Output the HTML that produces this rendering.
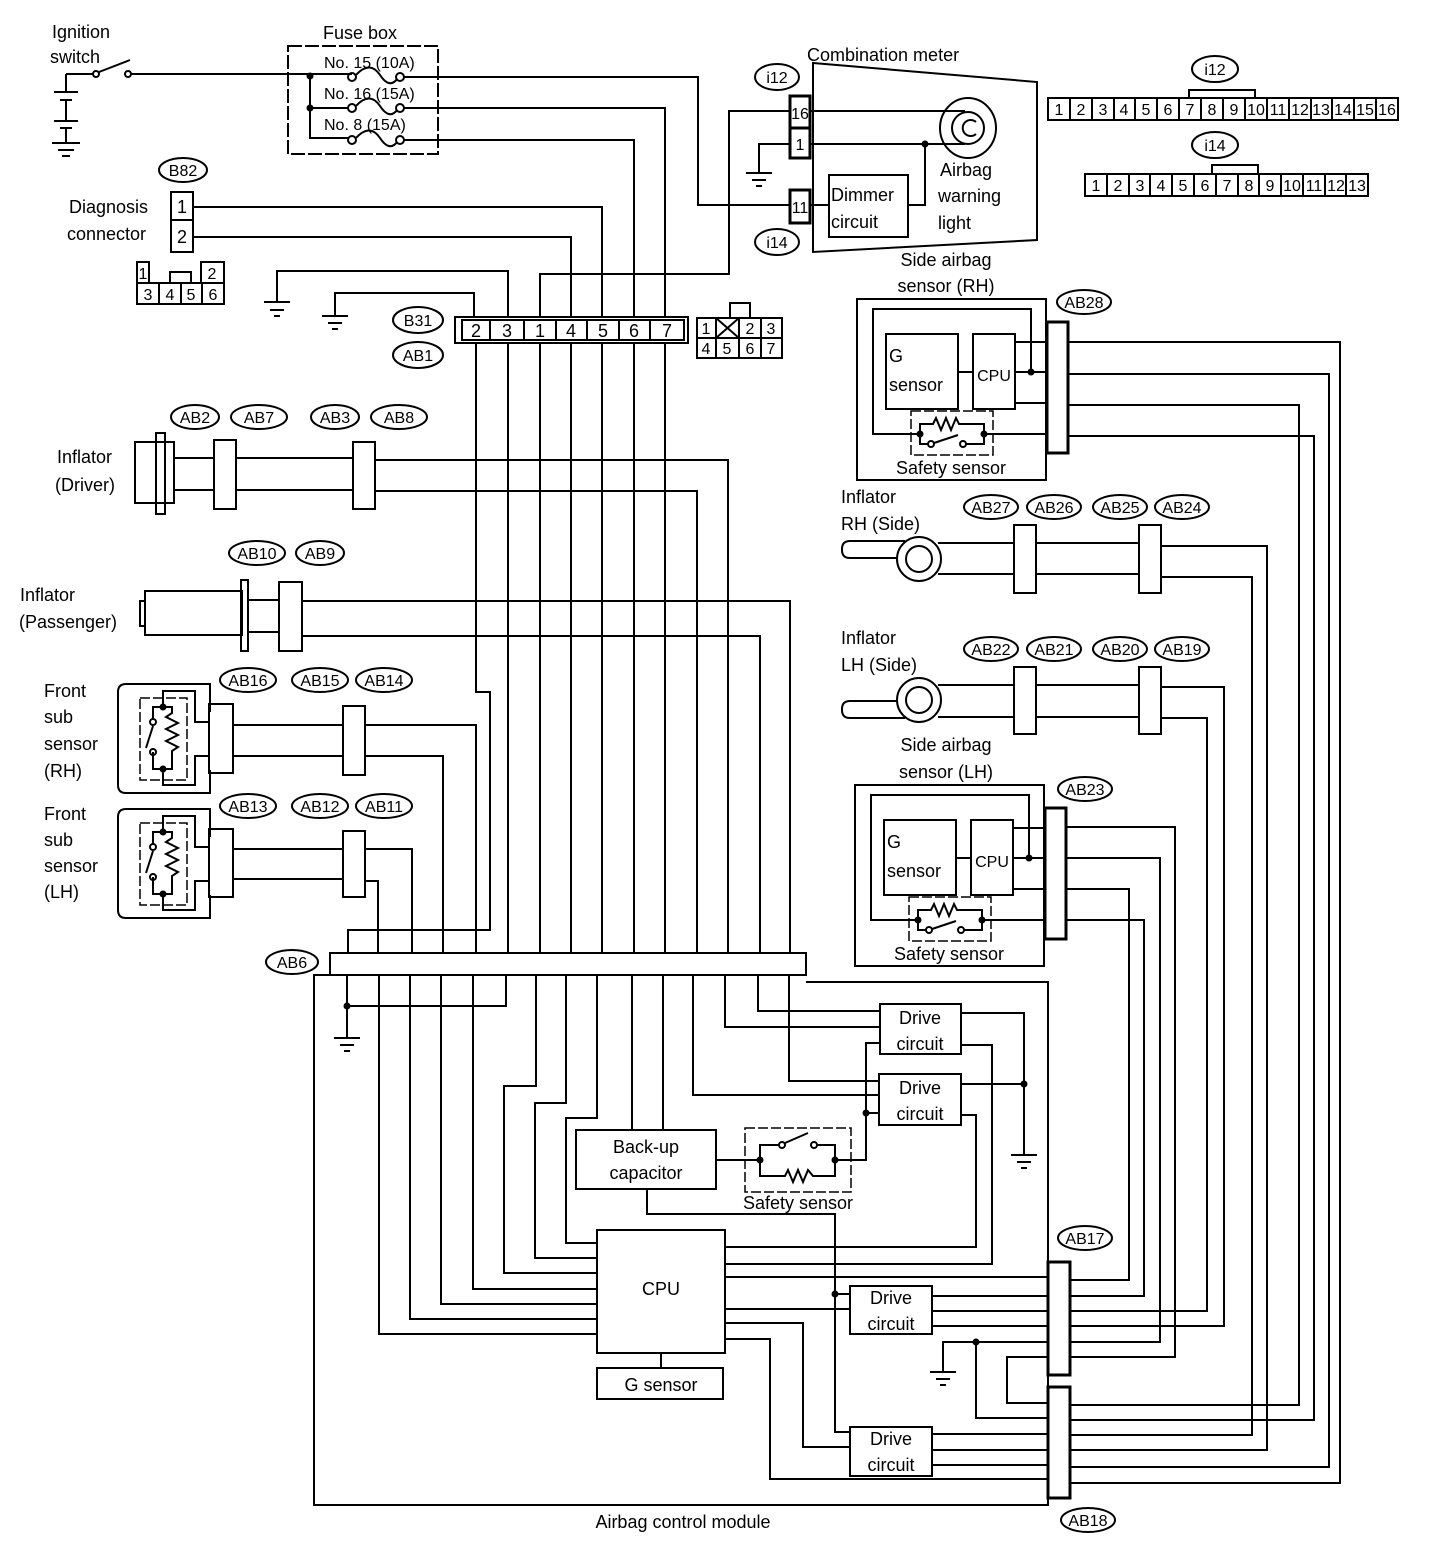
<!DOCTYPE html>
<html><head><meta charset="utf-8"><style>
html,body{margin:0;padding:0;background:#fff}
svg{display:block}
text{font-family:"Liberation Sans",Arial,sans-serif;font-size:18px;fill:#000}
.s{font-size:16px}
</style></head><body>
<svg width="1440" height="1556" viewBox="0 0 1440 1556" xmlns="http://www.w3.org/2000/svg">
<g fill="none" stroke="#000" stroke-width="2">
<path d="M66,74 V92 M54,92 H78 M60,100 H72 M66,100 V121 M54,121 H78 M60,128 H72 M66,128 V143 M52,143 H80 M58,150 H74 M62,156 H70"/>
<path d="M66,74 H93 M99,72 L130,60 M131,74 H352"/>
<circle cx="96" cy="74" r="3"/><circle cx="128" cy="74" r="3"/>
<rect x="288" y="46" width="150" height="108" stroke-dasharray="14,3"/>
<path d="M310,76 V138 H349 M310,108 H349"/>
<circle cx="352" cy="77" r="4"/><circle cx="400" cy="77" r="4"/>
<circle cx="352" cy="108" r="4"/><circle cx="400" cy="108" r="4"/>
<circle cx="352" cy="140" r="4"/><circle cx="400" cy="140" r="4"/>
<path d="M356,75 C366,64 374,66 380,75 C386,84 392,86 397,79"/>
<path d="M356,106 C366,95 374,97 380,106 C386,115 392,117 397,110"/>
<path d="M356,138 C366,127 374,129 380,138 C386,147 392,149 397,142"/>
<path d="M404,77 H698 V205 H790 M404,108 H665 V317 M404,140 H634 V317"/>
<rect x="171" y="192" width="22" height="28"/><rect x="171" y="220" width="22" height="32"/>
<path d="M193,207 H602 V317 M193,237 H571 V317"/>
<rect x="137" y="262" width="12" height="21"/><rect x="201" y="262" width="23" height="21"/>
<rect x="170" y="272" width="21" height="11"/>
<rect x="137" y="283" width="87" height="21"/>
<path d="M159,283 V304 M181,283 V304 M202,283 V304"/>
<path d="M277,302 V271 H508 V317 M264,302 H290 M270,310 H284 M274,316 H280"/>
<path d="M335,316 V293 H474 V317 M322,316 H348 M328,323 H342 M332,329 H338"/>
<path d="M540,317 V274 H729 V111 H790"/>
<rect x="455" y="317" width="233" height="26"/>
<rect x="462" y="320" width="222" height="20"/>
<path d="M490,320 V340 M524,320 V340 M556,320 V340 M587,320 V340 M619,320 V340 M650,320 V340"/>
<rect x="697" y="318" width="85" height="40"/>
<path d="M697,338 H782 M716,318 V358 M739,318 V358 M761,318 V358 M716,318 L739,338 M739,318 L716,338 M730,318 V303 H750 V318"/>
<path d="M476,343 V692 H490 V930 H348 V953"/>
<path d="M508,343 V953 M540,343 V953 M571,343 V953 M602,343 V953 M634,343 V953 M665,343 V953"/>
<rect x="135" y="442" width="39" height="61"/>
<rect x="156" y="433" width="9" height="81"/>
<rect x="214" y="440" width="22" height="69"/>
<rect x="353" y="442" width="22" height="67"/>
<path d="M174,458 H214 M236,458 H353 M375,460 H728 V953 M174,490 H214 M236,490 H353 M375,491 H697 V953"/>
<rect x="145" y="591" width="97" height="44"/>
<rect x="140" y="601" width="5" height="25"/>
<rect x="241" y="580" width="7" height="71"/>
<rect x="279" y="582" width="23" height="69"/>
<path d="M248,600 H279 M302,601 H790 V953 M248,632 H279 M302,636 H760 V953"/>
<path d="M210,712 V684 H126 Q118,684 118,692 V785 Q118,793 126,793 H210 V770"/>
<rect x="140" y="698" width="47" height="82" stroke-dasharray="10,3" stroke-width="1.5"/>
<path d="M210,722 H195 V691 H163 V707 M163,707 H153 V719 M153,726 L146,748 M153,752 V769 H163 M163,707 H172 V713 L166,717 L178,723 L166,729 L178,735 L166,741 L178,747 L172,751 V769 H163 M163,769 V785 H195 V756 H210"/>
<circle cx="153" cy="722" r="3"/><circle cx="153" cy="752" r="3"/>
<rect x="209" y="704" width="24" height="69"/>
<rect x="343" y="706" width="22" height="69"/>
<path d="M233,725 H343 M365,725 H476 V953 M233,756 H343 M365,756 H443 V953"/>
<path d="M210,837 V809 H126 Q118,809 118,817 V910 Q118,918 126,918 H210 V895"/>
<rect x="140" y="823" width="47" height="82" stroke-dasharray="10,3" stroke-width="1.5"/>
<path d="M210,847 H195 V816 H163 V832 M163,832 H153 V844 M153,851 L146,873 M153,877 V894 H163 M163,832 H172 V838 L166,842 L178,848 L166,854 L178,860 L166,866 L178,872 L172,876 V894 H163 M163,894 V910 H195 V881 H210"/>
<circle cx="153" cy="847" r="3"/><circle cx="153" cy="877" r="3"/>
<rect x="209" y="829" width="24" height="68"/>
<rect x="343" y="831" width="22" height="66"/>
<path d="M233,849 H343 M365,849 H412 V953 M233,879 H343 M365,881 H378 V953"/>
<rect x="330" y="953" width="476" height="22"/>
<path d="M806,982 H1048 V1505 H314 V975 H330"/>
<path d="M347,975 V1038 M334,1038 H360 M340,1045 H354 M344,1051 H350 M347,1006 H506 V975"/>
<path d="M379,975 V1334 H598 M410,975 V1319 H598 M441,975 V1304 H598 M473,975 V1289 H598"/>
<path d="M536,975 V1086 H504 V1273 H598 M566,975 V1103 H535 V1258 H598 M597,975 V1118 H566 V1243 H598"/>
<path d="M632,975 V1130 M663,975 V1130"/>
<path d="M693,975 V1095 H879 M725,975 V1027 H880 M758,975 V1011 H880 M789,975 V1081 H879"/>
<rect x="880" y="1004" width="81" height="50"/>
<rect x="879" y="1074" width="82" height="51"/>
<path d="M961,1013 H1024 V1155 M1011,1155 H1037 M1017,1162 H1031 M1021,1168 H1027 M961,1084 H1024"/>
<path d="M961,1045 H992 V1264 H725 M961,1115 H976 V1247 H725"/>
<path d="M880,1043 H866 V1160 H851 M866,1113 H879"/>
<rect x="576" y="1130" width="140" height="59"/>
<path d="M716,1160 H760"/>
<rect x="745" y="1128" width="106" height="64" stroke-dasharray="10,3" stroke-width="1.5"/>
<path d="M760,1160 V1145 H779 M785,1143 L808,1133 M817,1145 H835 V1160 M760,1160 V1176 H785 L788,1170 L793,1182 L798,1170 L803,1182 L808,1170 L813,1176 H835 V1160 M835,1160 H851"/>
<circle cx="782" cy="1145" r="3"/><circle cx="814" cy="1145" r="3"/>
<path d="M647,1189 V1214 H835 V1432 H850 M835,1294 H850"/>
<rect x="597" y="1230" width="128" height="123"/>
<rect x="597" y="1368" width="126" height="31"/>
<path d="M661,1353 V1368"/>
<path d="M725,1277 H1048 M725,1309 H850 M725,1323 H803 V1447 H850 M725,1339 H770 V1479 H1048"/>
<rect x="850" y="1286" width="82" height="48"/>
<rect x="850" y="1427" width="82" height="49"/>
<path d="M932,1296 H1048 M932,1311 H1048 M932,1326 H1048 M932,1434 H1048 M932,1450 H1048 M932,1465 H1048"/>
<path d="M1048,1342 H943 V1372 M930,1372 H956 M936,1379 H950 M940,1385 H946 M976,1342 V1418 H1048 M1048,1357 H1007 V1403 H1048"/>
<rect x="1048" y="1262" width="22" height="113" stroke-width="3"/>
<rect x="1048" y="1387" width="22" height="111" stroke-width="3"/>
<path d="M1066,827 H1175 V1357 H1070 M1066,858 H1160 V1342 H1070 M1066,889 H1129 V1280 H1070 M1066,920 H1144 V1296 H1070"/>
<path d="M1161,687 H1224 V1326 H1070 M1161,718 H1207 V1311 H1070"/>
<path d="M1161,546 H1267 V1450 H1070 M1161,577 H1252 V1435 H1070"/>
<path d="M1068,342 H1340 V1483 H1070 M1068,374 H1329 V1467 H1070 M1068,405 H1299 V1405 H1070 M1068,436 H1314 V1420 H1070"/>
<path d="M905,541 H850 Q842,541 842,549 V550 Q842,558 850,558 H898"/>
<circle cx="919" cy="559" r="22"/><circle cx="919" cy="559" r="13"/>
<path d="M938,543 H1014 M1036,543 H1139 M938,574 H1014 M1036,574 H1139"/>
<rect x="1014" y="525" width="22" height="68"/><rect x="1139" y="525" width="22" height="68"/>
<path d="M905,718 H850 Q842,718 842,710 V709 Q842,701 850,701 H898"/>
<circle cx="919" cy="700" r="22"/><circle cx="919" cy="700" r="13"/>
<path d="M938,685 H1014 M1036,685 H1139 M938,717 H1014 M1036,717 H1139"/>
<rect x="1014" y="667" width="22" height="67"/><rect x="1139" y="667" width="22" height="67"/>
<g>
<rect x="857" y="299" width="189" height="181"/>
<path d="M1031,372 V309 H873 V434 H920"/>
<rect x="886" y="334" width="72" height="75"/>
<rect x="973" y="334" width="42" height="75"/>
<path d="M958,372 H973 M1015,342 H1047 M1015,372 H1047 M1015,403 H1047"/>
<rect x="911" y="411" width="82" height="44" stroke-dasharray="10,3" stroke-width="1.5"/>
<path d="M920,434 V424 H933 L936,418 L941,430 L946,418 L951,430 L956,418 L959,424 H984 V434 M920,434 V444 H928 M934,443 L958,435 M966,444 H984 V434 M984,434 H1047"/>
<circle cx="931" cy="444" r="3"/><circle cx="963" cy="444" r="3"/>
<rect x="1047" y="322" width="21" height="131" stroke-width="3"/>
</g>
<g transform="translate(-2,486)">
<rect x="857" y="299" width="189" height="181"/>
<path d="M1031,372 V309 H873 V434 H920"/>
<rect x="886" y="334" width="72" height="75"/>
<rect x="973" y="334" width="42" height="75"/>
<path d="M958,372 H973 M1015,342 H1047 M1015,372 H1047 M1015,403 H1047"/>
<rect x="911" y="411" width="82" height="44" stroke-dasharray="10,3" stroke-width="1.5"/>
<path d="M920,434 V424 H933 L936,418 L941,430 L946,418 L951,430 L956,418 L959,424 H984 V434 M920,434 V444 H928 M934,443 L958,435 M966,444 H984 V434 M984,434 H1047"/>
<circle cx="931" cy="444" r="3"/><circle cx="963" cy="444" r="3"/>
<rect x="1047" y="322" width="21" height="131" stroke-width="3"/>
</g>
<path d="M813,63 L1037,82 V240 L813,252 Z"/>
<rect x="790" y="96" width="20" height="32" stroke-width="3"/>
<rect x="790" y="128" width="20" height="30" stroke-width="3"/>
<rect x="790" y="190" width="20" height="33" stroke-width="3"/>
<path d="M810,111 H965 M810,144 H965 M790,144 H759 V173 M746,173 H772 M752,180 H766 M756,186 H762"/>
<rect x="829" y="175" width="79" height="62"/>
<path d="M810,205 H829 M908,205 H925 V144"/>
<ellipse cx="968" cy="128" rx="28" ry="30"/>
<circle cx="968" cy="128" r="16"/>
<path d="M976,122 A8,8 0 1 0 976,134"/>
<rect x="1048" y="98" width="350" height="22"/>
<path d="M1070,98 V120 M1092,98 V120 M1114,98 V120 M1135,98 V120 M1157,98 V120 M1179,98 V120 M1201,98 V120 M1223,98 V120 M1245,98 V120 M1267,98 V120 M1289,98 V120 M1311,98 V120 M1332,98 V120 M1354,98 V120 M1376,98 V120"/>
<path d="M1189,98 V90 H1255 V98" />
<rect x="1085" y="174" width="283" height="22"/>
<path d="M1107,174 V196 M1129,174 V196 M1150,174 V196 M1172,174 V196 M1194,174 V196 M1216,174 V196 M1238,174 V196 M1259,174 V196 M1281,174 V196 M1303,174 V196 M1325,174 V196 M1346,174 V196"/>
<path d="M1212,174 V165 H1258 V174"/>
<ellipse cx="183" cy="170" rx="24" ry="12"/>
<ellipse cx="418" cy="320" rx="25" ry="13"/>
<ellipse cx="418" cy="355" rx="25" ry="13"/>
<ellipse cx="777" cy="77" rx="22" ry="13"/>
<ellipse cx="777" cy="242" rx="22" ry="13"/>
<ellipse cx="1215" cy="69" rx="23" ry="13"/>
<ellipse cx="1215" cy="145" rx="23" ry="13"/>
<ellipse cx="195" cy="417" rx="24" ry="12"/>
<ellipse cx="259" cy="417" rx="28" ry="12"/>
<ellipse cx="335" cy="417" rx="24" ry="12"/>
<ellipse cx="399" cy="417" rx="28" ry="12"/>
<ellipse cx="257" cy="553" rx="28" ry="12"/>
<ellipse cx="320" cy="553" rx="24" ry="12"/>
<ellipse cx="248" cy="680" rx="28" ry="12"/>
<ellipse cx="320" cy="680" rx="28" ry="12"/>
<ellipse cx="384" cy="680" rx="28" ry="12"/>
<ellipse cx="248" cy="806" rx="28" ry="12"/>
<ellipse cx="320" cy="806" rx="28" ry="12"/>
<ellipse cx="384" cy="806" rx="28" ry="12"/>
<ellipse cx="292" cy="962" rx="26" ry="12"/>
<ellipse cx="1084" cy="302" rx="27" ry="12"/>
<ellipse cx="991" cy="507" rx="27" ry="12"/>
<ellipse cx="1054" cy="507" rx="27" ry="12"/>
<ellipse cx="1120" cy="507" rx="27" ry="12"/>
<ellipse cx="1182" cy="507" rx="27" ry="12"/>
<ellipse cx="991" cy="649" rx="27" ry="12"/>
<ellipse cx="1054" cy="649" rx="27" ry="12"/>
<ellipse cx="1120" cy="649" rx="27" ry="12"/>
<ellipse cx="1182" cy="649" rx="27" ry="12"/>
<ellipse cx="1085" cy="789" rx="27" ry="12"/>
<ellipse cx="1085" cy="1238" rx="27" ry="12"/>
<ellipse cx="1088" cy="1520" rx="27" ry="12"/>
</g>
<g fill="#000">
<circle cx="310" cy="76" r="3.5"/><circle cx="310" cy="108" r="3.5"/>
<circle cx="347" cy="1006" r="3.5"/><circle cx="1024" cy="1084" r="3.5"/>
<circle cx="866" cy="1113" r="3.5"/><circle cx="760" cy="1160" r="3.5"/><circle cx="835" cy="1160" r="3.5"/>
<circle cx="835" cy="1294" r="3.5"/><circle cx="976" cy="1342" r="3.5"/>
<circle cx="925" cy="144" r="3.5"/>
<circle cx="1031" cy="372" r="3.5"/><circle cx="920" cy="434" r="3.5"/><circle cx="984" cy="434" r="3.5"/>
<circle cx="1029" cy="858" r="3.5"/><circle cx="918" cy="920" r="3.5"/><circle cx="982" cy="920" r="3.5"/>
<circle cx="163" cy="707" r="3.5"/><circle cx="163" cy="769" r="3.5"/>
<circle cx="163" cy="832" r="3.5"/><circle cx="163" cy="894" r="3.5"/>
</g>
<text x="52" y="38">Ignition</text><text x="50" y="63">switch</text>
<text x="323" y="39">Fuse box</text>
<text x="324" y="68" class="s">No. 15 (10A)</text>
<text x="324" y="99" class="s">No. 16 (15A)</text>
<text x="324" y="130" class="s">No. 8 (15A)</text>
<text x="183" y="176" class="s" text-anchor="middle">B82</text>
<text x="69" y="213">Diagnosis</text><text x="67" y="240">connector</text>
<text x="182" y="213" text-anchor="middle">1</text><text x="182" y="243" text-anchor="middle">2</text>
<g text-anchor="middle">
<text x="143" y="279" class="s">1</text><text x="212" y="279" class="s">2</text>
<text x="148" y="300" class="s">3</text><text x="170" y="300" class="s">4</text><text x="191" y="300" class="s">5</text><text x="213" y="300" class="s">6</text>
<text x="418" y="326" class="s">B31</text><text x="418" y="361" class="s">AB1</text>
<text x="476" y="337">2</text><text x="507" y="337">3</text><text x="540" y="337">1</text><text x="571" y="337">4</text><text x="603" y="337">5</text><text x="634" y="337">6</text><text x="667" y="337">7</text>
<text x="706" y="334" class="s">1</text><text x="750" y="334" class="s">2</text><text x="771" y="334" class="s">3</text>
<text x="706" y="354" class="s">4</text><text x="727" y="354" class="s">5</text><text x="750" y="354" class="s">6</text><text x="771" y="354" class="s">7</text>
<text x="777" y="83" class="s">i12</text><text x="777" y="248" class="s">i14</text>
<text x="800" y="119" class="s">16</text><text x="800" y="150" class="s">1</text><text x="800" y="213" class="s">11</text>
<text x="1215" y="75" class="s">i12</text><text x="1215" y="151" class="s">i14</text>
<text x="1059" y="115" class="s">1</text><text x="1081" y="115" class="s">2</text><text x="1103" y="115" class="s">3</text><text x="1124" y="115" class="s">4</text><text x="1146" y="115" class="s">5</text><text x="1168" y="115" class="s">6</text><text x="1190" y="115" class="s">7</text><text x="1212" y="115" class="s">8</text><text x="1234" y="115" class="s">9</text><text x="1256" y="115" class="s">10</text><text x="1278" y="115" class="s">11</text><text x="1300" y="115" class="s">12</text><text x="1321" y="115" class="s">13</text><text x="1343" y="115" class="s">14</text><text x="1365" y="115" class="s">15</text><text x="1387" y="115" class="s">16</text>
<text x="1096" y="191" class="s">1</text><text x="1118" y="191" class="s">2</text><text x="1140" y="191" class="s">3</text><text x="1161" y="191" class="s">4</text><text x="1183" y="191" class="s">5</text><text x="1205" y="191" class="s">6</text><text x="1227" y="191" class="s">7</text><text x="1249" y="191" class="s">8</text><text x="1270" y="191" class="s">9</text><text x="1292" y="191" class="s">10</text><text x="1314" y="191" class="s">11</text><text x="1336" y="191" class="s">12</text><text x="1357" y="191" class="s">13</text>
<text x="195" y="423" class="s">AB2</text><text x="259" y="423" class="s">AB7</text><text x="335" y="423" class="s">AB3</text><text x="399" y="423" class="s">AB8</text>
<text x="257" y="559" class="s">AB10</text><text x="320" y="559" class="s">AB9</text>
<text x="248" y="686" class="s">AB16</text><text x="320" y="686" class="s">AB15</text><text x="384" y="686" class="s">AB14</text>
<text x="248" y="812" class="s">AB13</text><text x="320" y="812" class="s">AB12</text><text x="384" y="812" class="s">AB11</text>
<text x="292" y="968" class="s">AB6</text>
<text x="1084" y="308" class="s">AB28</text>
<text x="991" y="513" class="s">AB27</text><text x="1054" y="513" class="s">AB26</text><text x="1120" y="513" class="s">AB25</text><text x="1182" y="513" class="s">AB24</text>
<text x="991" y="655" class="s">AB22</text><text x="1054" y="655" class="s">AB21</text><text x="1120" y="655" class="s">AB20</text><text x="1182" y="655" class="s">AB19</text>
<text x="1085" y="795" class="s">AB23</text><text x="1085" y="1244" class="s">AB17</text><text x="1088" y="1526" class="s">AB18</text>
<text x="920" y="1024">Drive</text><text x="920" y="1050">circuit</text>
<text x="920" y="1094">Drive</text><text x="920" y="1120">circuit</text>
<text x="891" y="1304">Drive</text><text x="891" y="1330">circuit</text>
<text x="891" y="1445">Drive</text><text x="891" y="1471">circuit</text>
<text x="646" y="1153">Back-up</text><text x="646" y="1179">capacitor</text>
<text x="798" y="1209">Safety sensor</text>
<text x="661" y="1295">CPU</text>
<text x="661" y="1391">G sensor</text>
<text x="683" y="1528">Airbag control module</text>
<text x="951" y="474">Safety sensor</text><text x="949" y="960">Safety sensor</text>
<text x="946" y="266">Side airbag</text><text x="946" y="292">sensor (RH)</text>
<text x="946" y="751">Side airbag</text><text x="946" y="778">sensor (LH)</text>
<text x="994" y="381" class="s">CPU</text><text x="992" y="867" class="s">CPU</text>
</g>
<text x="807" y="61">Combination meter</text>
<text x="831" y="201">Dimmer</text><text x="831" y="228">circuit</text>
<text x="940" y="176">Airbag</text><text x="938" y="202">warning</text><text x="938" y="229">light</text>
<text x="889" y="362">G</text><text x="889" y="391">sensor</text>
<text x="887" y="848">G</text><text x="887" y="877">sensor</text>
<text x="57" y="463">Inflator</text><text x="55" y="491">(Driver)</text>
<text x="20" y="601">Inflator</text><text x="19" y="628">(Passenger)</text>
<text x="44" y="697">Front</text><text x="44" y="723">sub</text><text x="44" y="750">sensor</text><text x="44" y="777">(RH)</text>
<text x="44" y="820">Front</text><text x="44" y="846">sub</text><text x="44" y="872">sensor</text><text x="44" y="898">(LH)</text>
<text x="841" y="503">Inflator</text><text x="841" y="530">RH (Side)</text>
<text x="841" y="644">Inflator</text><text x="841" y="671">LH (Side)</text>
</svg>
</body></html>
